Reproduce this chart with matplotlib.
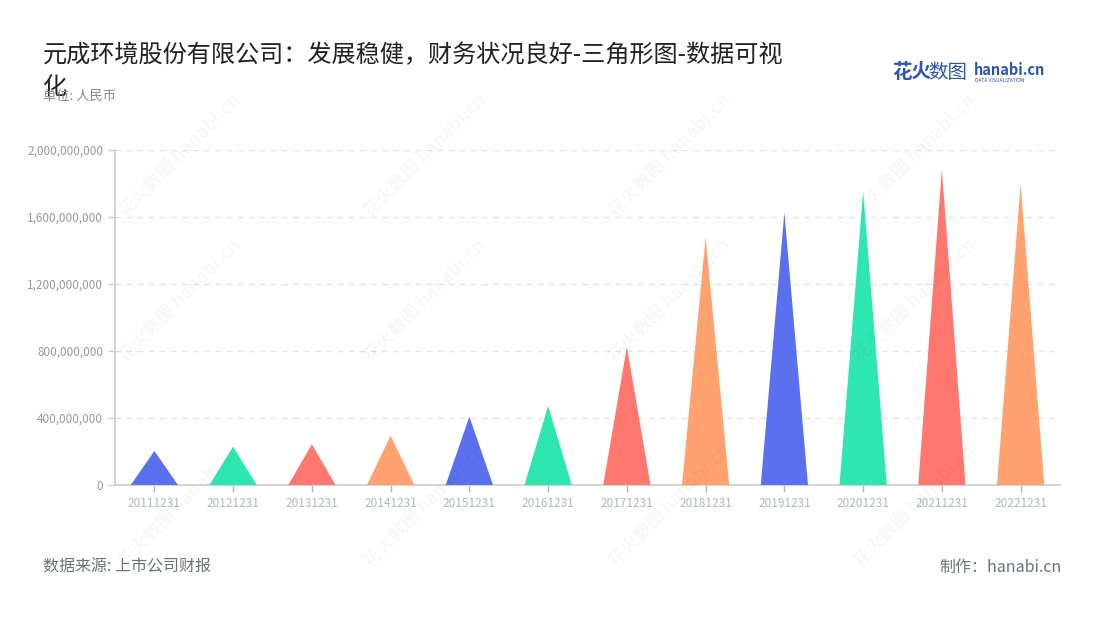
import matplotlib
matplotlib.use("Agg")
import matplotlib.pyplot as plt
from matplotlib.ticker import FuncFormatter, MultipleLocator

plt.rcParams['font.family'] = ['Noto Sans CJK SC', 'DejaVu Sans']

categories = ["20111231", "20121231", "20131231", "20141231", "20151231", "20161231",
              "20171231", "20181231", "20191231", "20201231", "20211231", "20221231"]
values = [203e6, 228e6, 243e6, 294e6, 408e6, 472e6,
          826e6, 1479e6, 1626e6, 1751e6, 1885e6, 1797e6]
palette = ["#5a70ee", "#2ee6b0", "#ff7870", "#ffa26f"]

title = "元成环境股份有限公司：发展稳健，财务状况良好-三角形图-数据可视\n化"
unit = "单位: 人民币"
source = "数据来源: 上市公司财报"
maker = "制作：hanabi.cn"

W, H = 1100, 620
fig = plt.figure(figsize=(W / 100, H / 100), dpi=100)
fig.patch.set_facecolor("white")

# watermarks
for wx in [180, 425, 670, 915]:
    for wy in [155, 300, 505]:
        fig.text(wx / W, 1 - wy / H, "花火数图 hanabi.cn", rotation=45, fontsize=13,
                 color="#000000", alpha=0.03, ha="center", va="center", fontweight="bold")

ax = fig.add_axes([115 / W, 1 - 485 / H, 945 / W, 335 / H])
ax.set_facecolor("none")

half = 0.3
for i, v in enumerate(values):
    ax.fill([i - half, i, i + half], [0, v, 0], color=palette[i % 4], lw=0, zorder=3)

ax.set_xlim(-0.5, len(categories) - 0.5)
ax.set_ylim(0, 2e9)
ax.set_xticks(range(len(categories)))
ax.set_xticklabels(categories, fontsize=8.5, color="#b3b6c2")
ax.yaxis.set_major_locator(MultipleLocator(4e8))
ax.yaxis.set_major_formatter(FuncFormatter(lambda v, p: f"{int(v):,}"))
ax.tick_params(axis="y", labelsize=8.5, labelcolor="#999999", color="#cccccc", length=5, width=1)
ax.tick_params(axis="x", color="#b3b6c2", length=5, width=1)
ax.grid(axis="y", color="#e3e3e3", linestyle=(0, (4, 4)), lw=1)
ax.set_axisbelow(True)
for s in ["top", "right"]:
    ax.spines[s].set_visible(False)
for s in ["left", "bottom"]:
    ax.spines[s].set_color("#cccccc")
    ax.spines[s].set_linewidth(1.2)

fig.text(43 / W, 1 - 42 / H, title, fontsize=17.4, color="#222222", ha="left", va="top",
         linespacing=1.3)
fig.text(43 / W, 1 - 96 / H, unit, fontsize=9.5, color="#888888", ha="left", va="center")
fig.text(43 / W, 1 - 567 / H, source, fontsize=11.5, color="#6e7079", ha="left", va="center")
fig.text(1062 / W, 1 - 567 / H, maker, fontsize=11.5, color="#6e7079", ha="right", va="center")

# logo
fig.text(892 / W, 1 - 73 / H, "花火", fontsize=14, color="#2b54b4", ha="left", va="center",
         fontweight="bold")
fig.text(928 / W, 1 - 73 / H, "数图", fontsize=14, color="#2b54b4", ha="left", va="center")
fig.text(974 / W, 1 - 70 / H, "hanabi.cn", fontsize=10.5, color="#2b54b4", ha="left", va="center",
         fontweight="bold")
fig.text(975 / W, 1 - 80 / H, "DATA VISUALIZATION", fontsize=3.6, color="#2b54b4", ha="left",
         va="center")

fig.savefig("out.png", dpi=100, facecolor="white")
